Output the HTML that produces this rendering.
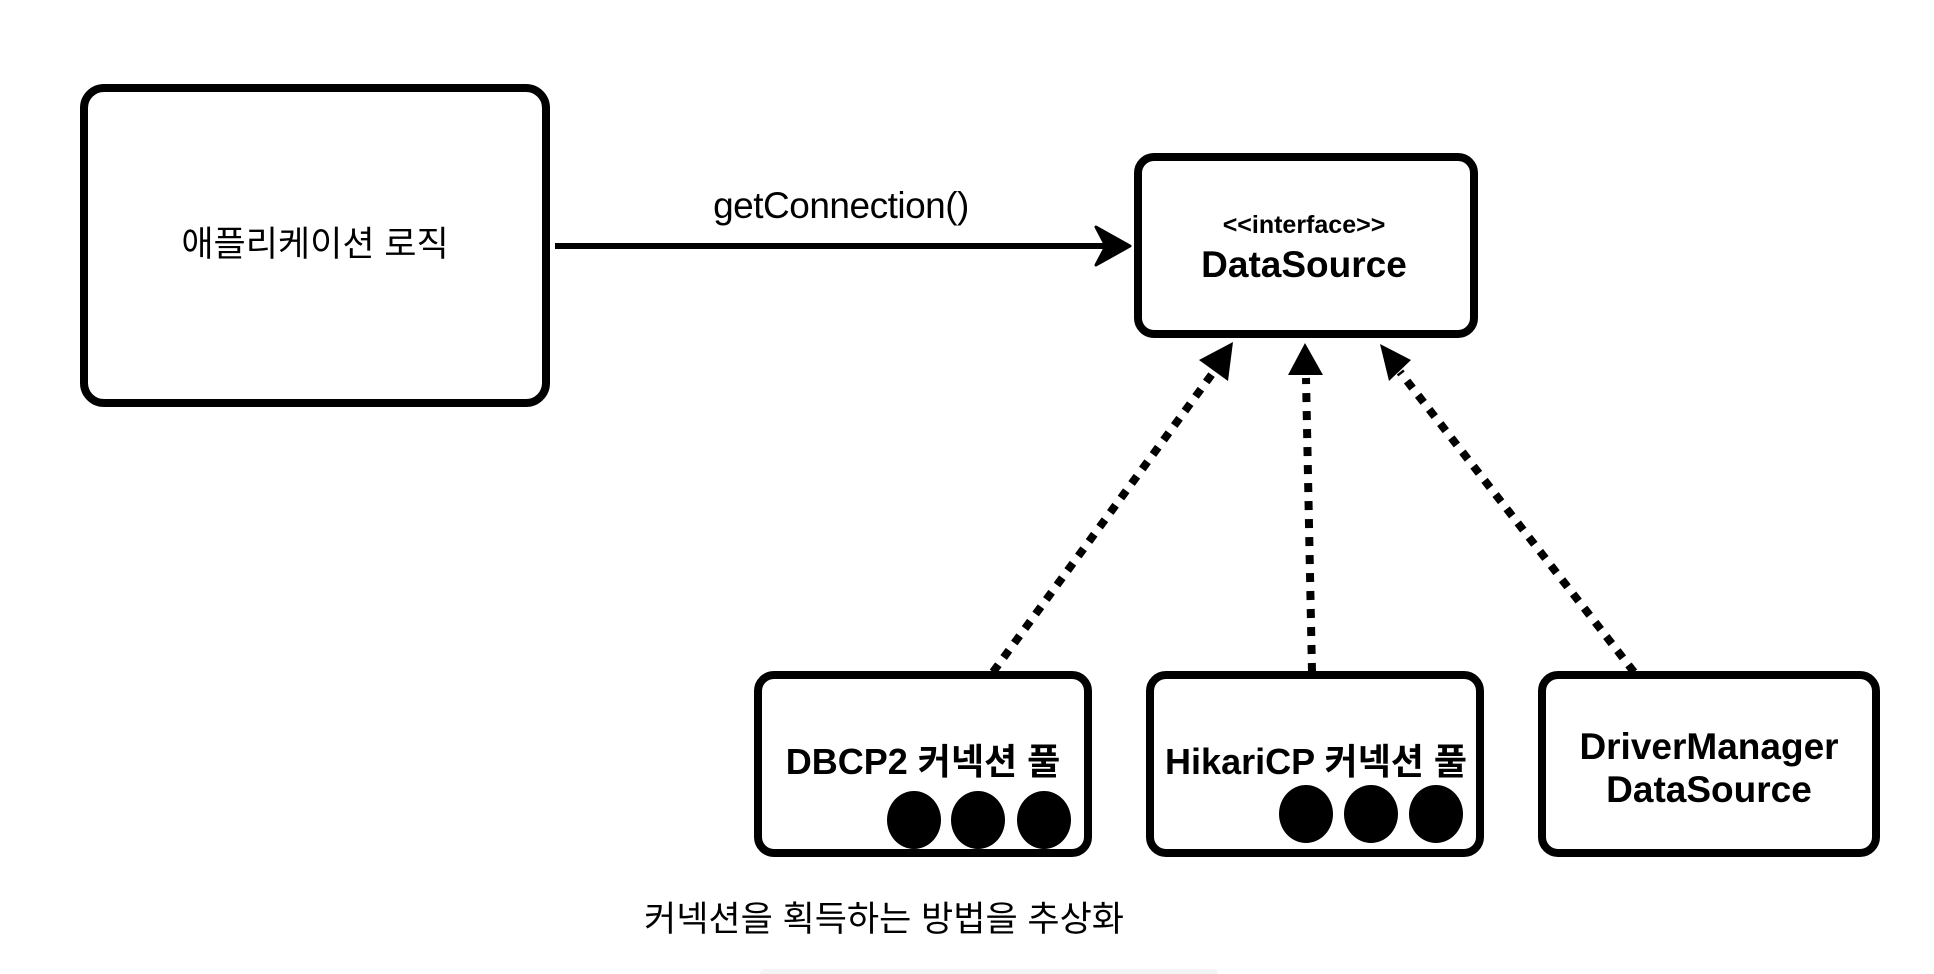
<!DOCTYPE html>
<html><head><meta charset="utf-8"><style>
html,body{margin:0;padding:0;background:#fff;}
body{width:1934px;height:974px;overflow:hidden;position:relative;}
svg{position:absolute;left:0;top:0;}
text{font-family:"Liberation Sans","Noto Sans CJK KR","NanumGothic",sans-serif;fill:#000;}
</style></head><body>
<svg width="1934" height="974" viewBox="0 0 1934 974">
<!-- boxes -->
<rect x="84" y="88" width="462" height="315" rx="20" fill="#fff" stroke="#000" stroke-width="8"/>
<rect x="1138" y="157" width="336" height="177" rx="16" fill="#fff" stroke="#000" stroke-width="8"/>
<rect x="758" y="675" width="330" height="178" rx="16" fill="#fff" stroke="#000" stroke-width="8"/>
<rect x="1150" y="675" width="330" height="178" rx="16" fill="#fff" stroke="#000" stroke-width="8"/>
<rect x="1542" y="675" width="334" height="178" rx="16" fill="#fff" stroke="#000" stroke-width="8"/>

<!-- main arrow -->
<line x1="555" y1="246" x2="1120" y2="246" stroke="#000" stroke-width="6"/>
<polygon points="1096,227 1130,246 1096,265 1106,246" fill="#000" stroke="#000" stroke-width="3" stroke-linejoin="round"/>
<text x="841" y="218" font-size="37" text-anchor="middle" letter-spacing="-0.5">getConnection()</text>

<!-- labels -->
<text x="315" y="256" font-size="35" text-anchor="middle">애플리케이션 로직</text>
<text x="1304" y="233" font-size="25" font-weight="bold" text-anchor="middle">&lt;&lt;interface&gt;&gt;</text>
<text x="1304" y="277" font-size="37" font-weight="bold" text-anchor="middle">DataSource</text>
<text x="923" y="774" font-size="36" font-weight="bold" text-anchor="middle">DBCP2 커넥션 풀</text>
<text x="1316" y="774" font-size="36" font-weight="bold" text-anchor="middle">HikariCP 커넥션 풀</text>
<text x="1709" y="759" font-size="37" font-weight="bold" text-anchor="middle">DriverManager</text>
<text x="1709" y="802" font-size="37" font-weight="bold" text-anchor="middle">DataSource</text>

<!-- circles -->
<ellipse cx="914" cy="820" rx="27" ry="29"/>
<ellipse cx="978" cy="820" rx="27" ry="29"/>
<ellipse cx="1044" cy="820" rx="27" ry="29"/>
<ellipse cx="1306" cy="814" rx="27" ry="29"/>
<ellipse cx="1371" cy="814" rx="27" ry="29"/>
<ellipse cx="1436" cy="814" rx="27" ry="29"/>

<!-- dotted arrows -->
<g stroke="#000" stroke-width="8" stroke-dasharray="9 9" fill="none">
<line x1="993" y1="672" x2="1215" y2="370"/>
<line x1="1312" y1="672" x2="1306" y2="378"/>
<line x1="1634" y1="672" x2="1400" y2="372"/>
</g>
<polygon points="1233,342 1228,381 1199,360" fill="#000"/>
<polygon points="1305,343 1323,375 1288,375" fill="#000"/>
<polygon points="1380,344 1411,360 1389,381" fill="#000"/>

<text x="884" y="931" font-size="35" text-anchor="middle">커넥션을 획득하는 방법을 추상화</text>
<rect x="760" y="969" width="458" height="10" rx="5" fill="#f3f4f6"/>
</svg>
</body></html>
